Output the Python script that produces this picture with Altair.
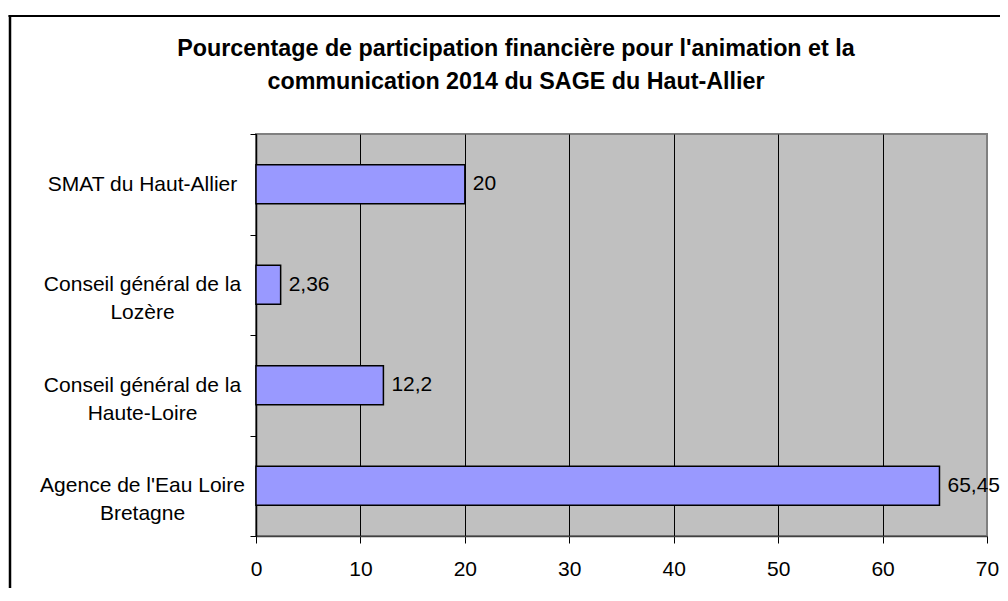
import altair as alt
import pandas as pd

CATEGORIES = [
    "SMAT du Haut-Allier",
    "Conseil général de la\nLozère",
    "Conseil général de la\nHaute-Loire",
    "Agence de l'Eau Loire\nBretagne",
]
VALUES = [20, 2.36, 12.2, 65.45]
LABELS = ["20", "2,36", "12,2", "65,45"]
X_TICKS = [0, 10, 20, 30, 40, 50, 60, 70]
TITLE_LINES = [
    "Pourcentage de participation financière pour l'animation et la",
    "communication 2014 du SAGE du Haut-Allier",
]

FONT = "Liberation Sans"
W, H = 731, 402

df = pd.DataFrame({"cat": CATEGORIES, "val": VALUES, "lab": LABELS})

x_enc = alt.X(
    "val:Q",
    scale=alt.Scale(domain=[0, 70], nice=False, zero=True),
    axis=alt.Axis(
        values=X_TICKS, title=None, grid=True,
        gridColor={"condition": {"test": "datum.value === 70", "value": "#808080"}, "value": "black"},
        gridWidth=1, tickSize=7, tickColor="black", domainColor="#404040", domainWidth=1.5,
        labelFontSize=21, labelFont=FONT, labelColor="black", labelPadding=15, labelFlush=False,
    ),
)
y_enc = alt.Y(
    "cat:N", sort=CATEGORIES,
    scale=alt.Scale(paddingInner=0, paddingOuter=0),
    axis=alt.Axis(
        title=None, tickBand="extent", tickSize=6, tickColor="black", domainColor="black",
        domainWidth=1.5, grid=False,
        labelFontSize=21, labelFont=FONT, labelColor="black", labelAlign="center",
        labelBaseline="middle", labelPadding=108, labelLineHeight=28, labelLimit=0,
        labelExpr="split(datum.label, '\\n')",
    ),
)

bars = alt.Chart(df).mark_bar(
    height={"band": 0.39}, fill="#9999FF", stroke="black", strokeWidth=1.5
).encode(x=x_enc, y=y_enc)

labels = alt.Chart(df).mark_text(
    align="left", baseline="middle", dx=8, fontSize=21, font=FONT, color="black"
).encode(x="val:Q", y=alt.Y("cat:N", sort=CATEGORIES), text="lab:N")

one = pd.DataFrame({"k": [0]})
title = alt.Chart(one).mark_text(
    align="center", baseline="alphabetic", fontSize=23.3, fontWeight="bold",
    font=FONT, color="black", lineHeight=33
).encode(x=alt.value(260), y=alt.value(-78), text=alt.value(TITLE_LINES))

border_left = alt.Chart(one).mark_rule(color="black", strokeWidth=2.5).encode(
    x=alt.value(-246), y=alt.value(-119), y2=alt.value(600)
)
border_top = alt.Chart(one).mark_rule(color="black", strokeWidth=2).encode(
    x=alt.value(-247.5), x2=alt.value(900), y=alt.value(-118)
)

chart = alt.layer(bars, labels, title, border_left, border_top).properties(
    width=W, height=H,
    autosize=alt.AutoSizeParams(type="none"),
    padding={"left": 248, "top": 126, "right": 13, "bottom": 52},
    background="white",
).configure_view(
    fill="#C0C0C0", stroke="#808080", strokeWidth=2
)

chart.save("out.html", embed_options={"renderer": "svg", "actions": False})
